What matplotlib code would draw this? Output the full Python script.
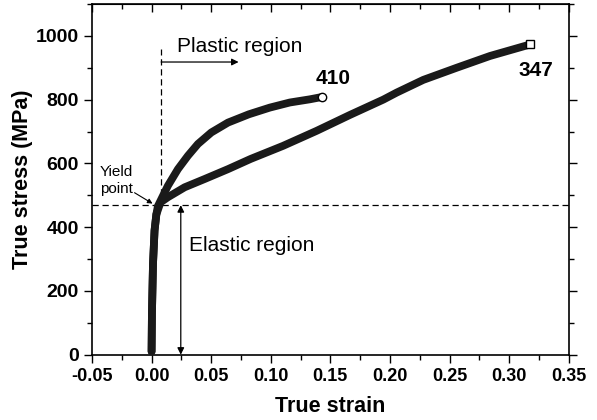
import matplotlib
matplotlib.use("Agg")
import matplotlib.pyplot as plt
from matplotlib.ticker import MultipleLocator

plt.rcParams['font.family'] = ['Liberation Sans', 'DejaVu Sans']

# Steel 410 curve (true strain, true stress MPa)
strain_410 = [0.0, 0.0003, 0.0012, 0.0025, 0.004, 0.0053, 0.0137, 0.0221, 0.0305, 0.0389,
              0.0501, 0.0641, 0.0816, 0.0992, 0.116, 0.1328, 0.1426]
stress_410 = [10, 130, 286, 390, 440, 466, 530, 582, 624, 661,
              697, 728, 754, 775, 791, 801, 808]

# Steel 347 curve
strain_347 = [0.0, 0.0003, 0.0012, 0.0025, 0.004, 0.0075, 0.0137, 0.0277, 0.0445, 0.0641,
              0.0831, 0.1103, 0.1384, 0.1664, 0.1944, 0.2056, 0.228, 0.256, 0.284, 0.3176]
stress_347 = [10, 130, 286, 390, 440, 478, 494, 525, 551, 582,
              614, 655, 702, 752, 800, 822, 862, 900, 937, 973]

yield_stress = 469
yield_strain = 0.008
label_410 = "410"
label_347 = "347"

fig = plt.figure(figsize=(5.97, 4.2), dpi=100)
ax = fig.add_axes([0.1541, 0.1555, 0.7985, 0.835])

band = dict(color='#1a1a1a', lw=5.6, solid_capstyle='round', solid_joinstyle='round', zorder=3)
ax.plot(strain_410, stress_410, **band)
ax.plot(strain_347, stress_347, **band)
ax.plot(strain_410[-1], stress_410[-1], 'o', ms=6, mfc='white', mec='black', mew=1.0, zorder=4)
ax.plot(strain_347[-1], stress_347[-1], 's', ms=5.5, mfc='white', mec='black', mew=1.0, zorder=4)

# dashed guides
ax.axhline(yield_stress, color='black', lw=0.9, ls=(0, (5, 3)), zorder=2)
ax.plot([yield_strain, yield_strain], [yield_stress, 958], color='black', lw=0.9,
        ls=(0, (5, 3)), zorder=2)

# plastic region arrow
ax.annotate('', xy=(0.073, 918), xytext=(yield_strain, 918),
            arrowprops=dict(arrowstyle='-|>', color='black', lw=0.9,
                            mutation_scale=10, shrinkA=0, shrinkB=0))
ax.text(0.021, 968, 'Plastic region', fontsize=15, ha='left', va='center')

# elastic region double arrow
ax.annotate('', xy=(0.0245, 0), xytext=(0.0245, yield_stress),
            arrowprops=dict(arrowstyle='<|-|>', color='black', lw=0.9,
                            mutation_scale=10, shrinkA=0, shrinkB=0))
ax.text(0.031, 343, 'Elastic region', fontsize=15, ha='left', va='center')

# yield point
ax.annotate('', xy=(0.0008, 474), xytext=(-0.0143, 508),
            arrowprops=dict(arrowstyle='-|>', color='black', lw=0.8,
                            mutation_scale=7, shrinkA=0, shrinkB=0))
ax.text(-0.0435, 546, 'Yield\npoint', fontsize=11, ha='left', va='center', linespacing=1.25)

ax.text(0.1379, 865, label_410, fontsize=15, fontweight='bold', ha='left', va='center')
ax.text(0.3075, 890, label_347, fontsize=15, fontweight='bold', ha='left', va='center')

ax.set_xlim(-0.05, 0.35)
ax.set_ylim(0, 1100)
ax.xaxis.set_minor_locator(MultipleLocator(0.025))
ax.yaxis.set_minor_locator(MultipleLocator(100))
ax.set_yticks([0, 200, 400, 600, 800, 1000])
ax.set_xticks([-0.05, 0.0, 0.05, 0.10, 0.15, 0.20, 0.25, 0.30, 0.35])
ax.set_xticklabels(['-0.05', '0.00', '0.05', '0.10', '0.15', '0.20', '0.25', '0.30', '0.35'])

ax.tick_params(which='both', direction='out', right=True, width=1.0)
ax.tick_params(axis='x', labelsize=13)
ax.tick_params(axis='y', labelsize=14)
ax.tick_params(which='major', length=6)
ax.tick_params(which='minor', length=3.5)
for lab in ax.get_xticklabels() + ax.get_yticklabels():
    lab.set_fontweight('bold')

top = ax.secondary_xaxis('top')
top.xaxis.set_major_locator(MultipleLocator(0.05))
top.xaxis.set_minor_locator(MultipleLocator(0.025))
top.tick_params(which='both', direction='in', labeltop=False, width=1.0)
top.tick_params(which='major', length=6)
top.tick_params(which='minor', length=3.5)

for s in ax.spines.values():
    s.set_linewidth(1.2)

ax.set_xlabel('True strain', fontsize=15.5, fontweight='bold', labelpad=8)
ax.set_ylabel('True stress (MPa)', fontsize=15.5, fontweight='bold', labelpad=2)

fig.savefig('out.png', dpi=100)
